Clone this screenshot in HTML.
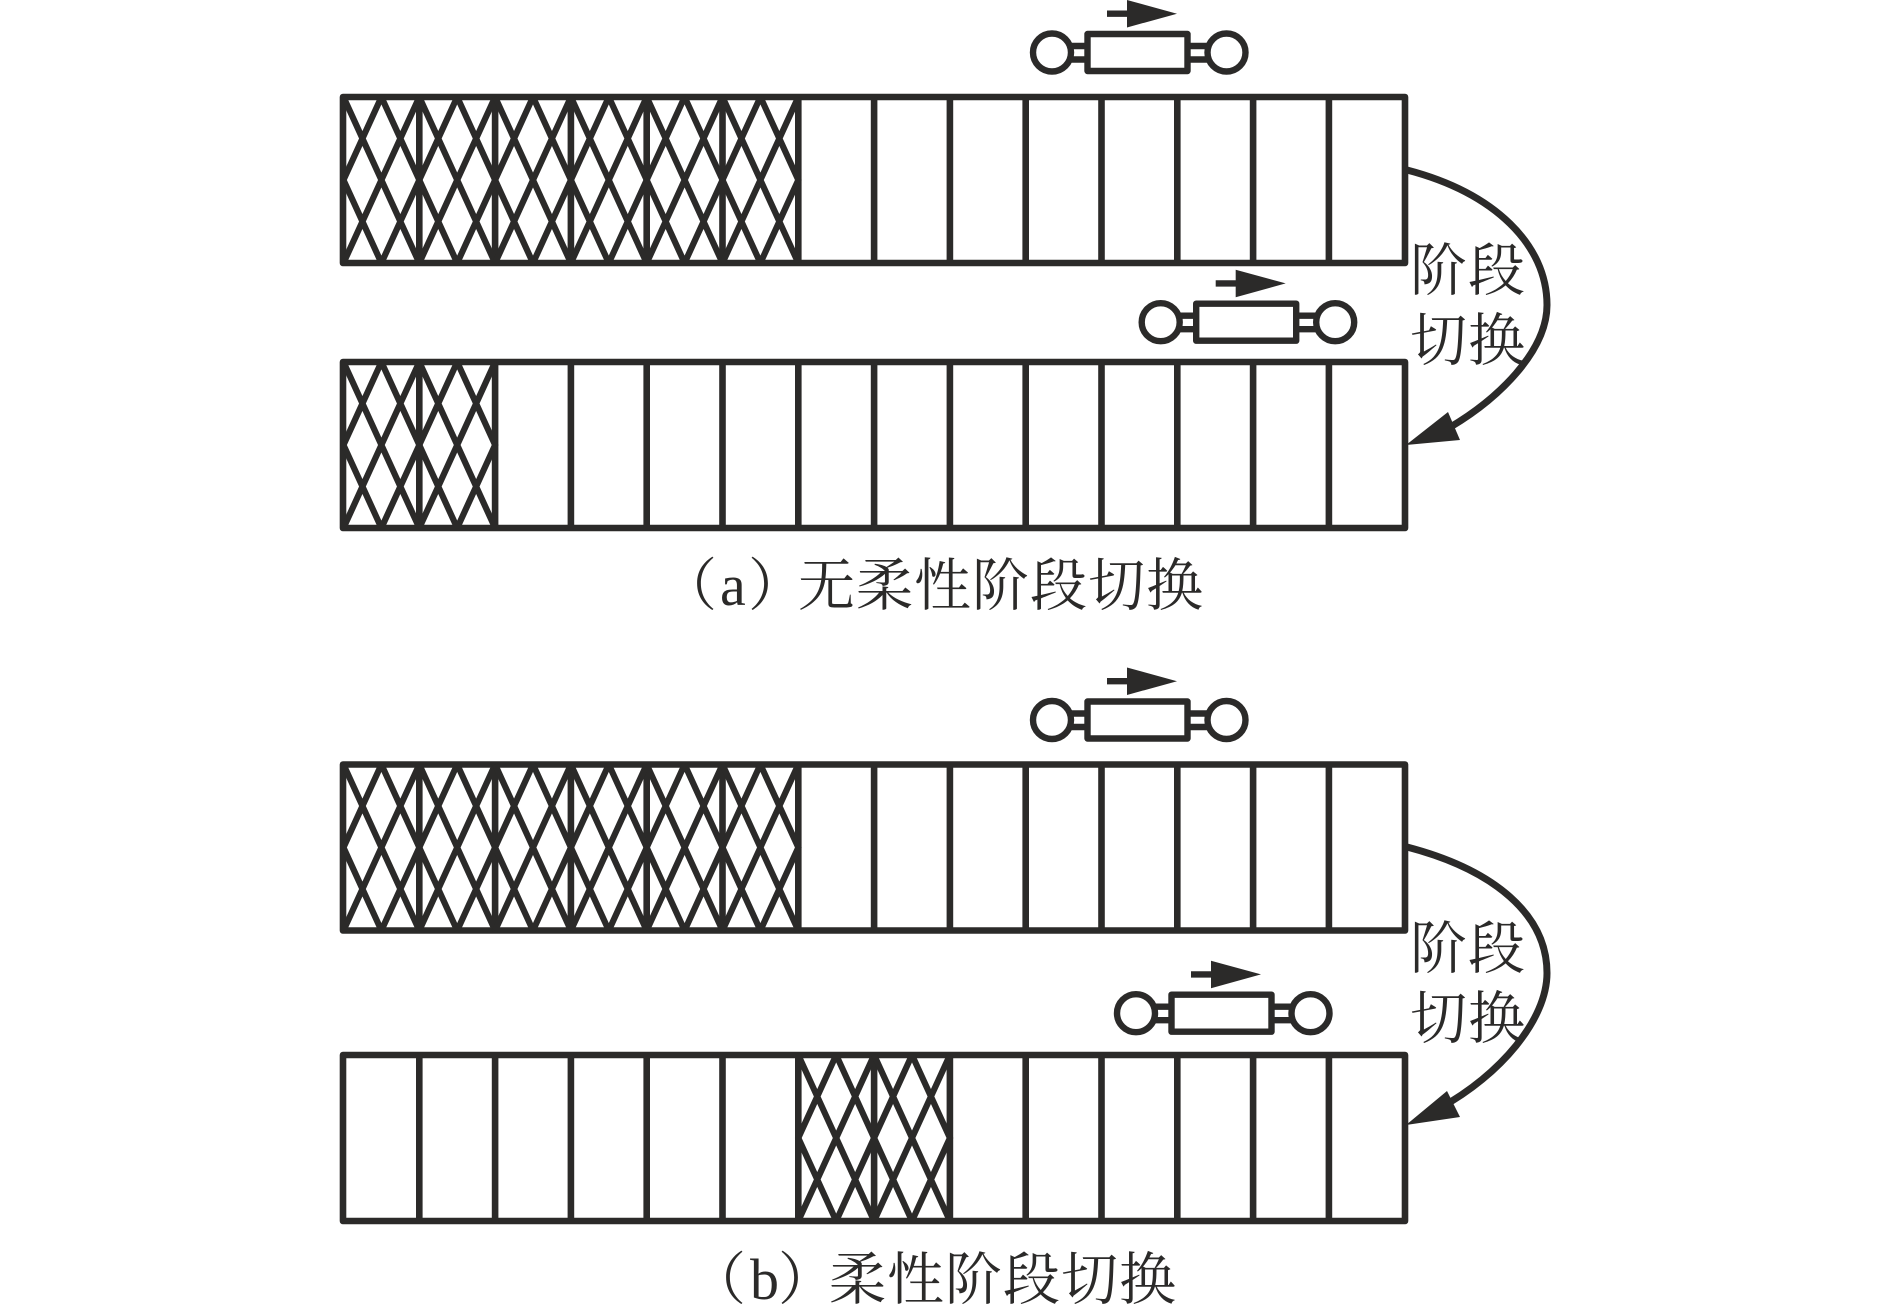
<!DOCTYPE html>
<html lang="zh">
<head>
<meta charset="utf-8">
<title>阶段切换</title>
<style>
html,body{margin:0;padding:0;background:#fff;width:1890px;height:1315px;overflow:hidden}
svg{display:block}
text{font-family:"Liberation Serif","Noto Serif CJK SC",serif;fill:#2b2a29}
.c{font-family:"Noto Serif CJK SC","Liberation Serif",serif;font-size:57px}
</style>
</head>
<body>
<svg width="1890" height="1315" viewBox="0 0 1890 1315" xmlns="http://www.w3.org/2000/svg">
<defs>
<g id="bar" fill="none" stroke="#2b2a29" stroke-width="6.6" stroke-linejoin="round">
<rect x="343" y="0" width="1062" height="166"/>
<path d="M419.3 0V166M495.1 0V166M570.9 0V166M646.7 0V166M722.5 0V166M798.3 0V166M874.1 0V166M949.9 0V166M1025.7 0V166M1101.5 0V166M1177.3 0V166M1253.1 0V166M1328.9 0V166"/>
</g>
<path id="h" fill="none" stroke="#2b2a29" stroke-width="6.2" d="M0 0L37.9 83L0 166M37.9 0L0 83L37.9 166M37.9 0L75.8 83L37.9 166M75.8 0L37.9 83L75.8 166"/>
<g id="car">
<g fill="none" stroke="#2b2a29" stroke-width="6.4" stroke-linejoin="round">
<circle cx="1052" cy="52.5" r="19"/>
<circle cx="1226.5" cy="52.5" r="19"/>
<rect x="1087.5" y="34" width="100" height="37"/>
<path d="M1069 46H1088M1069 59.5H1088M1187 46H1209M1187 59.5H1209"/>
<path d="M1107 13.7H1130" stroke-width="6.4"/>
</g>
<path d="M1127 0L1177 13.7L1127 27.5Z" fill="#2b2a29"/>
</g>
</defs>

<use href="#bar" x="0" y="97"/>
<use href="#bar" x="0" y="362"/>
<use href="#bar" x="0" y="764.5"/>
<use href="#bar" x="0" y="1055"/>

<use href="#h" x="343.5" y="97"/>
<use href="#h" x="419.3" y="97"/>
<use href="#h" x="495.1" y="97"/>
<use href="#h" x="570.9" y="97"/>
<use href="#h" x="646.7" y="97"/>
<use href="#h" x="722.5" y="97"/>

<use href="#h" x="343.5" y="362"/>
<use href="#h" x="419.3" y="362"/>

<use href="#h" x="343.5" y="764.5"/>
<use href="#h" x="419.3" y="764.5"/>
<use href="#h" x="495.1" y="764.5"/>
<use href="#h" x="570.9" y="764.5"/>
<use href="#h" x="646.7" y="764.5"/>
<use href="#h" x="722.5" y="764.5"/>

<use href="#h" x="798.3" y="1055"/>
<use href="#h" x="874.1" y="1055"/>

<use href="#car" x="0" y="0"/>
<use href="#car" x="108.7" y="269.7"/>
<use href="#car" x="0" y="667.5"/>
<use href="#car" x="84" y="960.7"/>

<path d="M1407 170C1495 193 1547 245 1547 305C1547 350 1500 400 1440 433" fill="none" stroke="#2b2a29" stroke-width="7"/>
<path d="M1406 445L1448 412L1460 440Z" fill="#2b2a29"/>
<path d="M1407 847C1495 870 1547 915 1547 973C1547 1020 1500 1075 1440 1108" fill="none" stroke="#2b2a29" stroke-width="7"/>
<path d="M1406 1125L1447 1091L1460 1117Z" fill="#2b2a29"/>

<text class="c" x="1410 1468" y="290">阶段</text>
<text class="c" x="1410 1468" y="360">切换</text>
<text class="c" x="1410 1468" y="968">阶段</text>
<text class="c" x="1410 1468" y="1038">切换</text>

<text class="c" x="660" y="605">（</text>
<text x="720" y="605" font-size="58">a</text>
<text class="c" x="748" y="605">）</text>
<text class="c" x="798 856 914 972 1030 1088 1146" y="605">无柔性阶段切换</text>

<text class="c" x="689" y="1299">（</text>
<text x="750" y="1299" font-size="58">b</text>
<text class="c" x="778" y="1299">）</text>
<text class="c" x="829 887 945 1003 1061 1119" y="1299">柔性阶段切换</text>
</svg>
</body>
</html>
